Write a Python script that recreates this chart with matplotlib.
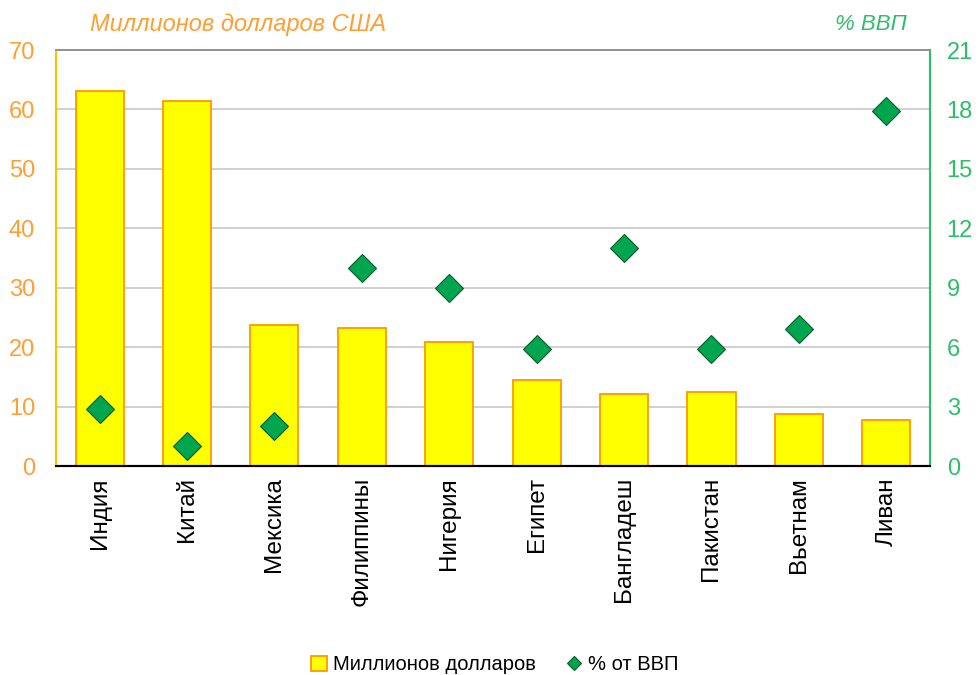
import numpy as np
import matplotlib.pyplot as plt

plt.rcParams['font.family'] = ['Liberation Sans', 'DejaVu Sans']

countries = ["Индия", "Китай", "Мексика", "Филиппины", "Нигерия",
             "Египет", "Бангладеш", "Пакистан", "Вьетнам", "Ливан"]
usd_mln = [63.1, 61.4, 23.8, 23.2, 20.8, 14.4, 12.1, 12.4, 8.7, 7.7]
pct_gdp = [2.9, 1.0, 2.0, 10.0, 9.0, 5.9, 11.0, 5.9, 6.9, 17.9]

left_ticks = [0, 10, 20, 30, 40, 50, 60, 70]
right_ticks = [0, 3, 6, 9, 12, 15, 18, 21]

orange = "#FF9F33"
green = "#2EBE6A"

fig = plt.figure(figsize=(9.8, 6.75), dpi=100)
ax = fig.add_axes([0.057, 0.3096, 0.892, 0.6163])
ax2 = ax.twinx()

x = np.arange(len(countries))
ax.bar(x, usd_mln, width=0.55, color="#FFFF00", edgecolor="#FF9900",
       linewidth=1.3, zorder=2, label="Миллионов долларов")
ax.set_ylim(0, 70)
ax.set_xlim(-0.5, len(countries) - 0.5)
ax.set_yticks(left_ticks)
ax.grid(axis="y", color="#C8C8C8", linewidth=1.2, zorder=0)
ax.set_axisbelow(True)
ax.set_xticks(x)
ax.set_xticklabels(countries, rotation=90, fontsize=17.5, color="black")
ax.tick_params(axis="y", colors=orange, labelsize=17, length=0, pad=15)
ax.tick_params(axis="x", length=0, pad=8)

ax2.plot(x, pct_gdp, linestyle="none", marker="D", markersize=14,
         markerfacecolor="#00A550", markeredgecolor="#0B5A2A",
         markeredgewidth=0.8, zorder=3, label="% от ВВП")
ax2.set_ylim(0, 21)
ax2.set_yticks(right_ticks)
ax2.tick_params(axis="y", colors=green, labelsize=17, length=0, pad=12)

for a in (ax, ax2):
    a.spines["top"].set_color("#909090")
    a.spines["top"].set_linewidth(1.2)
    a.spines["bottom"].set_color("black")
    a.spines["bottom"].set_linewidth(1.5)
    a.spines["left"].set_color("#FFC000")
    a.spines["left"].set_linewidth(1.5)
    a.spines["right"].set_color(green)
    a.spines["right"].set_linewidth(1.5)

fig.text(0.092, 0.963, "Миллионов долларов США", color=orange,
         fontsize=17, style="italic", va="center")
fig.text(0.852, 0.963, "% ВВП", color=green, fontsize=16,
         style="italic", va="center")

h1, l1 = ax.get_legend_handles_labels()
h2, l2 = ax2.get_legend_handles_labels()
leg = fig.legend(h1 + h2, l1 + l2, loc="center", bbox_to_anchor=(0.505, 0.015),
                 ncol=2, frameon=False, fontsize=14.5, handlelength=0.8,
                 handleheight=0.8, handletextpad=0.3, columnspacing=1.5,
                 markerscale=0.5)

fig.savefig("out.png", dpi=100)
